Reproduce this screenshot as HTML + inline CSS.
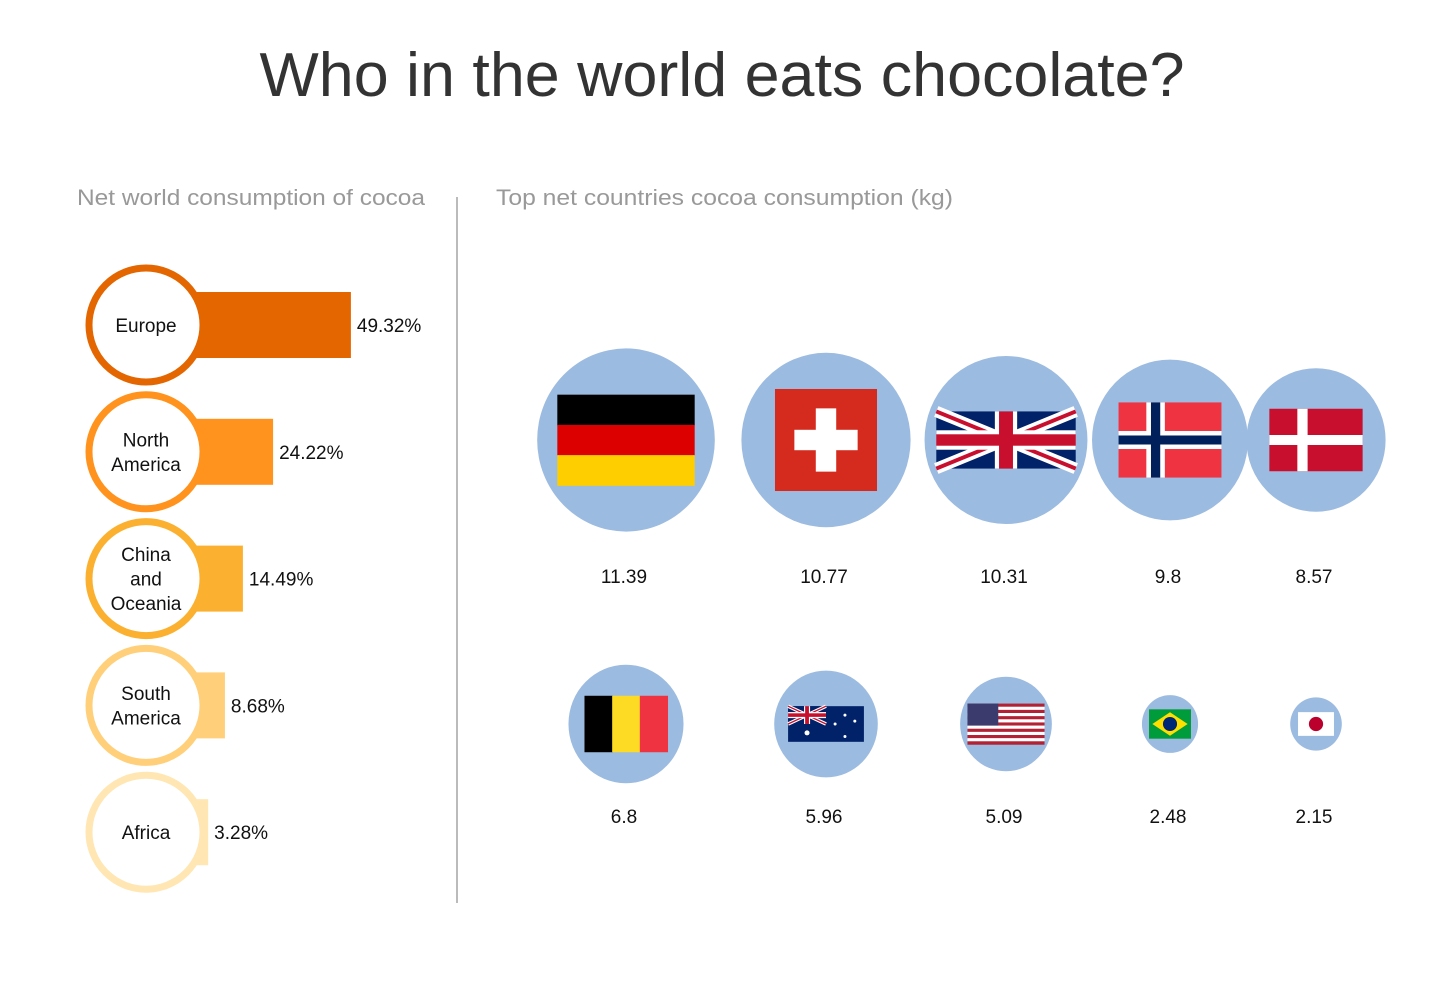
<!DOCTYPE html>
<html><head><meta charset="utf-8"><style>
body{margin:0;background:#fff;font-family:"Liberation Sans",sans-serif}
svg{display:block}
</style></head><body>
<svg id="c" width="1453" height="981" viewBox="0 0 1453 981" xmlns="http://www.w3.org/2000/svg" font-family="Liberation Sans, sans-serif">
<text x="722" y="96" text-anchor="middle" font-size="62" fill="#333" textLength="925" lengthAdjust="spacingAndGlyphs">Who in the world eats chocolate?</text>
<text x="77" y="205" font-size="22" fill="#999" textLength="348" lengthAdjust="spacingAndGlyphs">Net world consumption of cocoa</text>
<text x="496" y="205" font-size="22" fill="#999" textLength="457" lengthAdjust="spacingAndGlyphs">Top net countries cocoa consumption (kg)</text>
<line x1="457" y1="197" x2="457" y2="903" stroke="#bbb" stroke-width="2"/>
<g id="left"></g>
<g id="right"></g>
</svg>
<script>
const regions = [["Europe"],["North","America"],["China","and","Oceania"],["South","America"],["Africa"]];
const shares = [49.32, 24.22, 14.49, 8.68, 3.28];
const shareLabels = ["49.32%","24.22%","14.49%","8.68%","3.28%"];
const countries = ["germany","switzerland","uk","norway","denmark","belgium","australia","usa","brazil","japan"];
const consumption = [11.39, 10.77, 10.31, 9.8, 8.57, 6.8, 5.96, 5.09, 2.48, 2.15];
const consumptionLabels = ["11.39","10.77","10.31","9.8","8.57","6.8","5.96","5.09","2.48","2.15"];

const NS="http://www.w3.org/2000/svg";
function mk(tag, attrs, parent){const e=document.createElementNS(NS,tag);for(const k in attrs)e.setAttribute(k,attrs[k]);parent.appendChild(e);return e;}
const colors=["#E36600","#FF931E","#FBB12F","#FFCF7A","#FFE6B3"];
const L=document.getElementById('left');
const barScale=v=>52+3.1*v;
shares.forEach((v,i)=>{
  const cy=325+i*126.8, cx=146;
  const g=mk('g',{},L);
  
  
  const w=barScale(v);
  const b=mk('rect',{x:cx,y:cy-33,width:w,height:66,fill:colors[i]},g);
  
  
  const c=mk('circle',{cx:cx,cy:cy,r:57,fill:'#fff',stroke:colors[i],'stroke-width':7},g);
  
  
  const n=regions[i].length;
  regions[i].forEach((t,j)=>{
    const tx=mk('text',{x:cx,y:cy+7+(j-(n-1)/2)*24.5,'text-anchor':'middle','font-size':19,fill:'#111'},g);
    tx.textContent=t;
    
    
  });
  const vl=mk('text',{x:cx+w+6,y:cy+7,'font-size':19,fill:'#111'},g);
  vl.textContent=shareLabels[i];
  
  
});

const R=document.getElementById('right');
const rScale=v=>11.5+7.03*v;
const colX=[626,826,1006,1170,1316];
function flag(name,g,cx,cy,r){
  const f=mk('g',{},g);
  
  
  let w=1.45*r,h=w*0.6;
  if(name==='germany'){w=1.5*r;h=w*0.66;const x=cx-w/2,y=cy-h/2;
    ["#000","#DD0000","#FFCE00"].forEach((c,k)=>mk('rect',{x:x,y:y+k*h/3,width:w,height:h/3+0.5,fill:c},f));}
  else if(name==='switzerland'){w=h=1.17*r;const x=cx-w/2,y=cy-h/2;
    mk('rect',{x:x,y:y,width:w,height:h,fill:'#D52B1E'},f);
    mk('rect',{x:cx-w*0.1,y:cy-h*0.31,width:w*0.2,height:h*0.62,fill:'#fff'},f);
    mk('rect',{x:cx-w*0.31,y:cy-h*0.1,width:w*0.62,height:h*0.2,fill:'#fff'},f);}
  else if(name==='uk'){w=1.66*r;h=w*0.41;uk(f,cx-w/2,cy-h/2,w,h);}
  else if(name==='norway'){w=1.28*r;h=w*0.73;const x=cx-w/2,y=cy-h/2;
    mk('rect',{x:x,y:y,width:w,height:h,fill:'#EF3340'},f);
    mk('rect',{x:x+w*0.27,y:y,width:w*0.18,height:h,fill:'#fff'},f);
    mk('rect',{x:x,y:cy-h*0.12,width:w,height:h*0.24,fill:'#fff'},f);
    mk('rect',{x:x+w*0.315,y:y,width:w*0.09,height:h,fill:'#00205B'},f);
    mk('rect',{x:x,y:cy-h*0.06,width:w,height:h*0.12,fill:'#00205B'},f);}
  else if(name==='denmark'){w=1.3*r;h=w*0.67;const x=cx-w/2,y=cy-h/2;
    mk('rect',{x:x,y:y,width:w,height:h,fill:'#C8102E'},f);
    mk('rect',{x:x+w*0.3,y:y,width:w*0.11,height:h,fill:'#fff'},f);
    mk('rect',{x:x,y:cy-h*0.08,width:w,height:h*0.16,fill:'#fff'},f);}
  else if(name==='belgium'){w=1.4*r;h=w*0.68;const x=cx-w/2,y=cy-h/2;
    ["#000","#FDDA24","#EF3340"].forEach((c,k)=>mk('rect',{x:x+k*w/3,y:y,width:w/3+0.5,height:h,fill:c},f));}
  else if(name==='australia'){w=1.42*r;h=w*0.47;const x=cx-w/2,y=cy-h/2;
    mk('rect',{x:x,y:y,width:w,height:h,fill:'#012169'},f);
    uk(f,x,y,w/2,h/2);
    [[0.25,0.75,2.5],[0.75,0.25,1.5],[0.62,0.5,1.5],[0.75,0.85,1.5],[0.88,0.42,1.5]].forEach(s=>mk('circle',{cx:x+w*s[0],cy:y+h*s[1],r:s[2],fill:'#fff'},f));}
  else if(name==='usa'){w=1.63*r;h=w*0.53;const x=cx-w/2,y=cy-h/2;
    for(let k=0;k<13;k++)mk('rect',{x:x,y:y+k*h/13,width:w,height:h/13+0.3,fill:k%2?'#fff':'#B22234'},f);
    mk('rect',{x:x,y:y,width:w*0.4,height:h*7/13,fill:'#3C3B6E'},f);}
  else if(name==='brazil'){w=1.45*r;h=w*0.7;const x=cx-w/2,y=cy-h/2;
    mk('rect',{x:x,y:y,width:w,height:h,fill:'#009C3B'},f);
    mk('polygon',{points:`${cx},${y+h*0.1} ${x+w*0.92},${cy} ${cx},${y+h*0.9} ${x+w*0.08},${cy}`,fill:'#FFDF00'},f);
    mk('circle',{cx:cx,cy:cy,r:h*0.24,fill:'#002776'},f);}
  else if(name==='japan'){w=1.35*r;h=w*0.66;const x=cx-w/2,y=cy-h/2;
    mk('rect',{x:x,y:y,width:w,height:h,fill:'#fff'},f);
    mk('circle',{cx:cx,cy:cy,r:h*0.3,fill:'#BC002D'},f);}
}
function uk(f,x,y,w,h){
  mk('rect',{x:x,y:y,width:w,height:h,fill:'#012169'},f);
  mk('path',{d:`M${x},${y}L${x+w},${y+h}M${x+w},${y}L${x},${y+h}`,stroke:'#fff','stroke-width':h*0.2},f);
  mk('path',{d:`M${x},${y}L${x+w},${y+h}M${x+w},${y}L${x},${y+h}`,stroke:'#C8102E','stroke-width':h*0.07},f);
  mk('rect',{x:x+w*0.42,y:y,width:w*0.16,height:h,fill:'#fff'},f);
  mk('rect',{x:x,y:y+h*0.33,width:w,height:h*0.34,fill:'#fff'},f);
  mk('rect',{x:x+w*0.45,y:y,width:w*0.1,height:h,fill:'#C8102E'},f);
  mk('rect',{x:x,y:y+h*0.4,width:w,height:h*0.2,fill:'#C8102E'},f);
}
consumption.forEach((v,i)=>{
  const row=Math.floor(i/5), cx=colX[i%5], cy=row?724:440;
  const g=mk('g',{},R);
  
  
  const r=rScale(v);
  const c=mk('ellipse',{cx:cx,cy:cy,rx:r*0.97,ry:r,fill:'#9CBBE0'},g);
  
  
  flag(countries[i],g,cx,cy,r);
  const t=mk('text',{x:cx-2,y:row?823:583,'text-anchor':'middle','font-size':19,fill:'#111'},g);
  t.textContent=consumptionLabels[i];
  
  
});
</script>
</body></html>
